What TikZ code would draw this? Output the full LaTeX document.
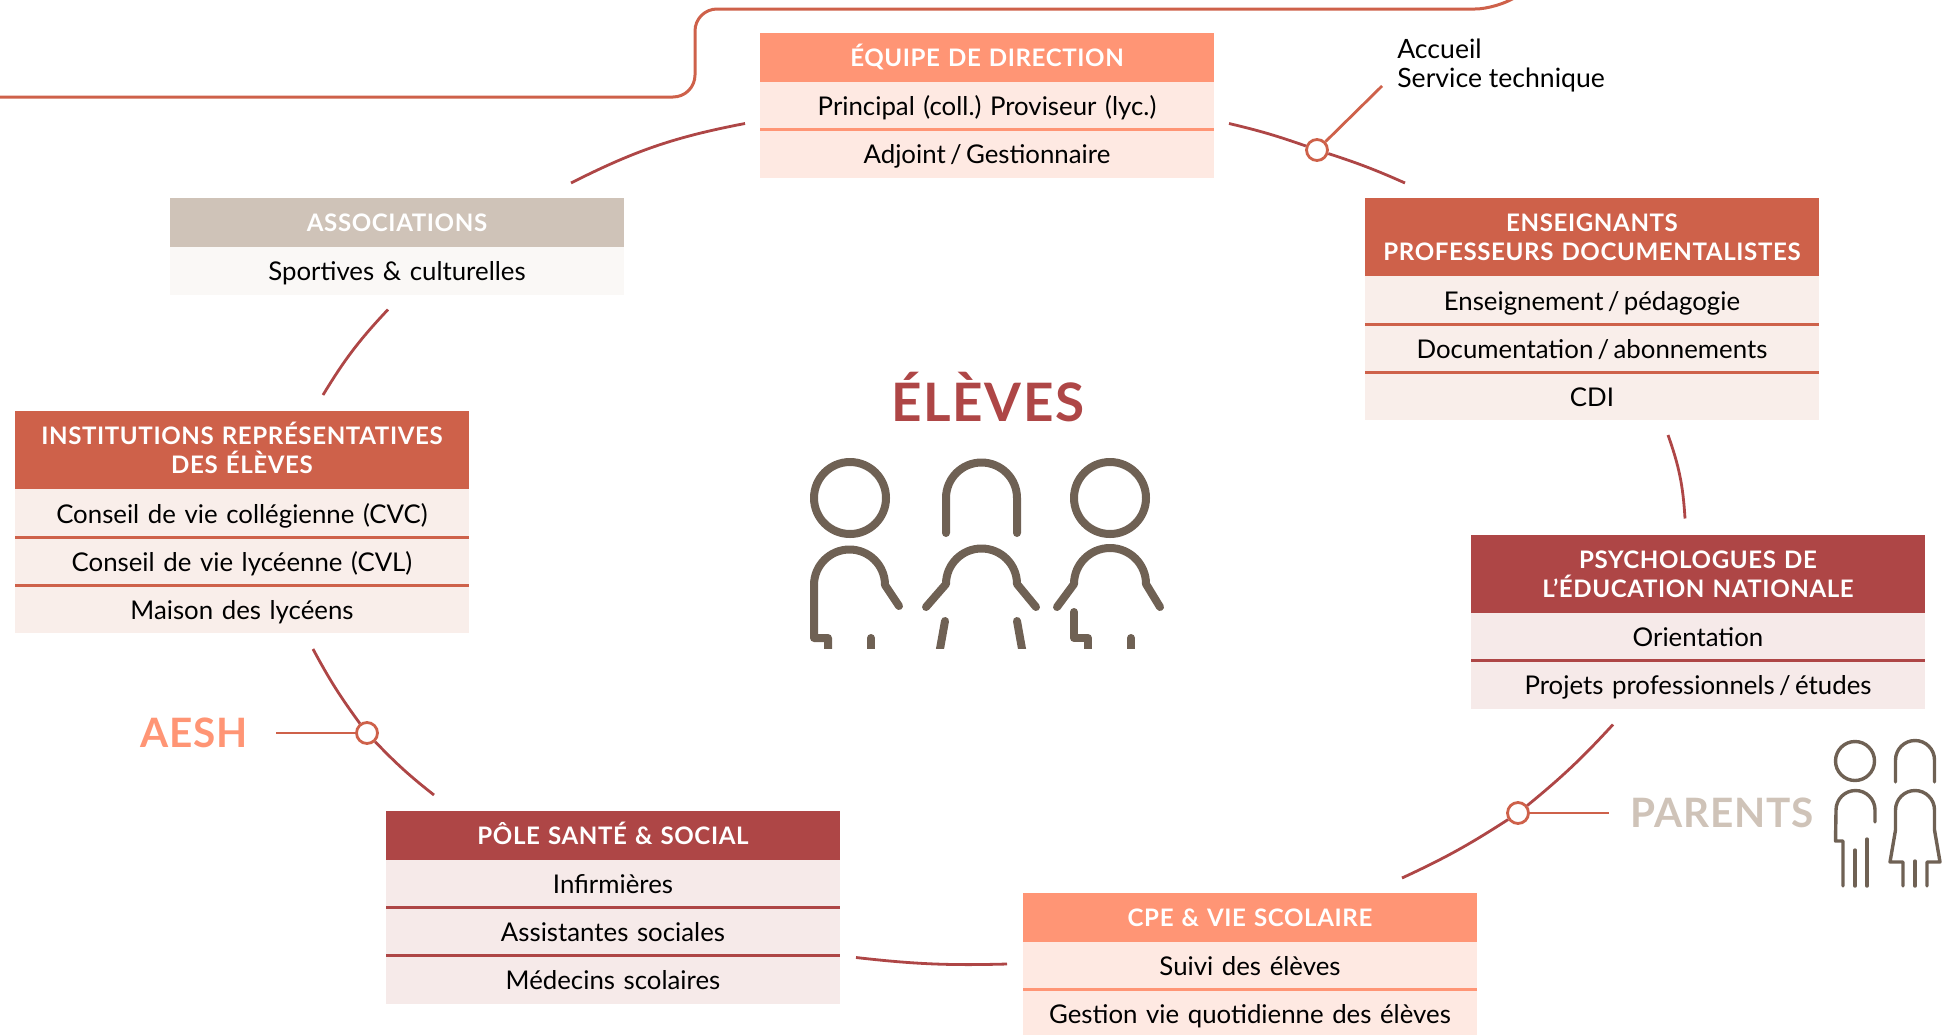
\documentclass[tikz,border=0pt]{standalone}
\usepackage{fontspec}
\setmainfont{Lato}
\usepackage{tikz}
\usetikzlibrary{positioning}

\definecolor{salmon}{HTML}{FF9575}
\definecolor{salmonrow}{HTML}{FEE9E2}
\definecolor{terra}{HTML}{CE614A}
\definecolor{terrarow}{HTML}{F9EEEA}
\definecolor{brick}{HTML}{AE4646}
\definecolor{brickrow}{HTML}{F6EAE9}
\definecolor{sand}{HTML}{CFC3B8}
\definecolor{sandrow}{HTML}{FAF8F6}
\definecolor{umber}{HTML}{6F6154}

\frenchspacing

\begin{document}
\begin{tikzpicture}[x=1pt,y=-1pt,node distance=0pt,semithick]

  \tikzstyle{box}=[rectangle,inner sep=0pt,outer sep=0pt,minimum width=454pt,text width=454pt,align=center]
  \tikzstyle{head}=[box,text=white,font=\fontsize{24.1}{29}\selectfont\bfseries\addfontfeature{LetterSpace=2.5},minimum height=48.5pt,text height=20pt,text depth=2pt]
  \tikzstyle{headtwo}=[box,text=white,font=\fontsize{24.1}{29}\selectfont\bfseries\addfontfeature{LetterSpace=2.5},minimum height=78pt,text height=17pt,text depth=28pt]
  \tikzstyle{rowbox}=[box,font=\fontsize{25.8}{29}\selectfont,minimum height=48pt,text height=22pt,text depth=2pt]
  \tikzstyle{title}=[inner sep=0pt,font=\fontsize{40.5}{44}\selectfont\bfseries\addfontfeature{LetterSpace=2}]
  \tikzstyle{rule}=[line width=3pt]
  \tikzstyle{link}=[brick,line width=2.8pt]
  \tikzstyle{branch}=[terra,line width=2.8pt]
  \tikzstyle{dot}=[circle,draw=terra,line width=2.8pt,fill=white,minimum size=21pt,inner sep=0pt]
  \tikzstyle{bigicon}=[umber,line width=8pt,line cap=round,line join=round]
  \tikzstyle{smallicon}=[umber,line width=3.4pt,line cap=round,line join=round]

  \path[use as bounding box,clip] (0,0) rectangle (1950,1034);

  % frame line at the top
  \draw[terra,line width=3pt,rounded corners=22pt] (-10,97) -- (695,97) -- (695,9) -- (1497,9) -- (1525,-9);

  % boxes
  \node[head,fill=salmon,anchor=north west] (dirhead) at (760,33) {ÉQUIPE DE DIRECTION};
  \node[rowbox,fill=salmonrow] (dirA) [below=of dirhead] {Principal (coll.) Proviseur (lyc.)};
  \node[rowbox,fill=salmonrow] (dirB) [below=of dirA]    {Adjoint\,/\,Gestionnaire};

  \node[head,fill=sand,anchor=north west] (assochead) at (170,198) {ASSOCIATIONS};
  \node[rowbox,fill=sandrow] (assocA) [below=of assochead] {Sportives \& culturelles};

  \node[headtwo,fill=terra,anchor=north west] (enshead) at (1365,198) {ENSEIGNANTS\\PROFESSEURS DOCUMENTALISTES};
  \node[rowbox,fill=terrarow] (ensA) [below=of enshead] {Enseignement\,/\,pédagogie};
  \node[rowbox,fill=terrarow] (ensB) [below=of ensA]    {Documentation\,/\,abonnements};
  \node[rowbox,fill=terrarow] (ensC) [below=of ensB]    {CDI};

  \node[headtwo,fill=terra,anchor=north west] (insthead) at (15,411) {INSTITUTIONS REPRÉSENTATIVES\\DES ÉLÈVES};
  \node[rowbox,fill=terrarow] (instA) [below=of insthead] {Conseil de vie collégienne (CVC)};
  \node[rowbox,fill=terrarow] (instB) [below=of instA]    {Conseil de vie lycéenne (CVL)};
  \node[rowbox,fill=terrarow] (instC) [below=of instB]    {Maison des lycéens};

  \node[headtwo,fill=brick,anchor=north west] (psyhead) at (1471,534.5) {PSYCHOLOGUES DE\\L’ÉDUCATION NATIONALE};
  \node[rowbox,fill=brickrow] (psyA) [below=of psyhead] {Orientation};
  \node[rowbox,fill=brickrow] (psyB) [below=of psyA]    {Projets professionnels\,/\,études};

  \node[head,fill=brick,anchor=north west] (polehead) at (386,811) {PÔLE SANTÉ \& SOCIAL};
  \node[rowbox,fill=brickrow] (poleA) [below=of polehead] {Infirmières};
  \node[rowbox,fill=brickrow] (poleB) [below=of poleA]    {Assistantes sociales};
  \node[rowbox,fill=brickrow] (poleC) [below=of poleB]    {Médecins scolaires};

  \node[head,fill=salmon,anchor=north west] (cpehead) at (1023,893) {CPE \& VIE SCOLAIRE};
  \node[rowbox,fill=salmonrow] (cpeA) [below=of cpehead] {Suivi des élèves};
  \node[rowbox,fill=salmonrow] (cpeB) [below=of cpeA]    {Gestion vie quotidienne des élèves};

  % rules between rows
  \draw[rule,salmon] (dirA.south west) -- (dirA.south east);
  \draw[rule,salmon] (cpeA.south west) -- (cpeA.south east);
  \draw[rule,terra] (ensA.south west) -- (ensA.south east);
  \draw[rule,terra] (ensB.south west) -- (ensB.south east);
  \draw[rule,terra] (instA.south west) -- (instA.south east);
  \draw[rule,terra] (instB.south west) -- (instB.south east);
  \draw[rule,brick] (psyA.south west) -- (psyA.south east);
  \draw[rule,brick] (poleA.south west) -- (poleA.south east);
  \draw[rule,brick] (poleB.south west) -- (poleB.south east);

  % labels
  \node[title,text=brick,font=\fontsize{53}{60}\selectfont\bfseries\addfontfeature{LetterSpace=3}] (eleves) at (988,397.5) {ÉLÈVES};
  \node[title,text=salmon] (aesh) at (194,733) {AESH};
  \node[title,text=sand] (parents) at (1722,813) {PARENTS};
  \node[inner sep=0pt,align=left,font=\fontsize{26.6}{29}\selectfont,anchor=north west] (staff) at (1397,39) {Accueil\\Service technique};

  % junctions
  \node[dot] (dotdir) at (1317,150) {};
  \node[dot] (dotpsy) at (1518,813) {};
  \node[dot] (dotpole) at (367,733) {};
  \coordinate (staffend) at (1382,86);
  \coordinate (parentsend) at (1609,813);
  \coordinate (aeshend) at (276,733);

  % links
  \draw[link] ([shift={(-15,18)}]dirA.west) to[bend right=8] ([shift={(174,-15)}]assochead.north);
  \draw[link] ([shift={(15,18)}]dirA.east) to[bend left=3] (dotdir);
  \draw[link] (dotdir) to[bend left=3] ([shift={(-187,-15)}]enshead.north);
  \draw[link] ([shift={(76,15)}]ensC.south) to[bend left=8] ([shift={(-13,-16)}]psyhead.north);
  \draw[link] ([shift={(-85,16)}]psyB.south) to[bend left=4] (dotpsy);
  \draw[link] (dotpsy) to[bend left=4] ([shift={(152,-15)}]cpehead.north);
  \draw[link] ([shift={(-16,-1.5)}]cpeA.west) to[bend left=4] ([shift={(16,2)}]poleC.north east);
  \draw[link] ([shift={(-179,-16)}]polehead.north) to[bend left=4] (dotpole);
  \draw[link] (dotpole) to[bend left=4] ([shift={(71,16)}]instC.south);
  \draw[link] ([shift={(81,-16)}]insthead.north) to[bend left=6] ([shift={(-9,15)}]assocA.south);

  \draw[branch] (dotdir) -- (staffend);
  \draw[branch] (dotpsy) -- (parentsend);
  \draw[branch] (dotpole) -- (aeshend);

  % big pupils
  \begin{scope}
    \clip (790,440) rectangle (1180,648);
    \draw[bigicon] (850,498) circle[radius=36pt];
    \draw[bigicon] (899,606) -- (885,585) arc (0:180:35.5pt) -- (814,638) -- (828,638) -- (828,660);
    \draw[bigicon] (871,638) -- (871,660);
    \draw[bigicon] (946,533) -- (946,498) arc (180:0:35.5pt) -- (1017,533);
    \draw[bigicon] (926,607) -- (946,584) arc (180:0:35.5pt) -- (1036,607);
    \draw[bigicon] (945,621) -- (938,660);
    \draw[bigicon] (1017,621) -- (1024,660);
    \draw[bigicon] (1110,498) circle[radius=36pt];
    \draw[bigicon] (1057,607) -- (1074,584) arc (180:0:36pt) -- (1160,607);
    \draw[bigicon] (1074,612) -- (1074,638) -- (1088,638) -- (1088,660);
    \draw[bigicon] (1131,638) -- (1131,660);
  \end{scope}

  % small parents
  \draw[smallicon] (1855,761) circle[radius=19.5pt];
  \draw[smallicon] (1875,822) -- (1875,810) arc (0:180:19.5pt) -- (1835.5,841) -- (1843,841) -- (1843,886);
  \draw[smallicon] (1855,850) -- (1855,886);
  \draw[smallicon] (1867,839) -- (1867,886);
  \draw[smallicon] (1895.5,782) -- (1895.5,760) arc (180:0:19.5pt) -- (1934.5,782);
  \draw[smallicon] (1903,886) -- (1903,862) -- (1890,862) -- (1895.5,830) -- (1895.5,810) arc (180:0:19.5pt) -- (1934.5,830) -- (1940,862) -- (1927,862) -- (1927,886);
  \draw[smallicon] (1915,861) -- (1915,886);

\end{tikzpicture}
\end{document}
